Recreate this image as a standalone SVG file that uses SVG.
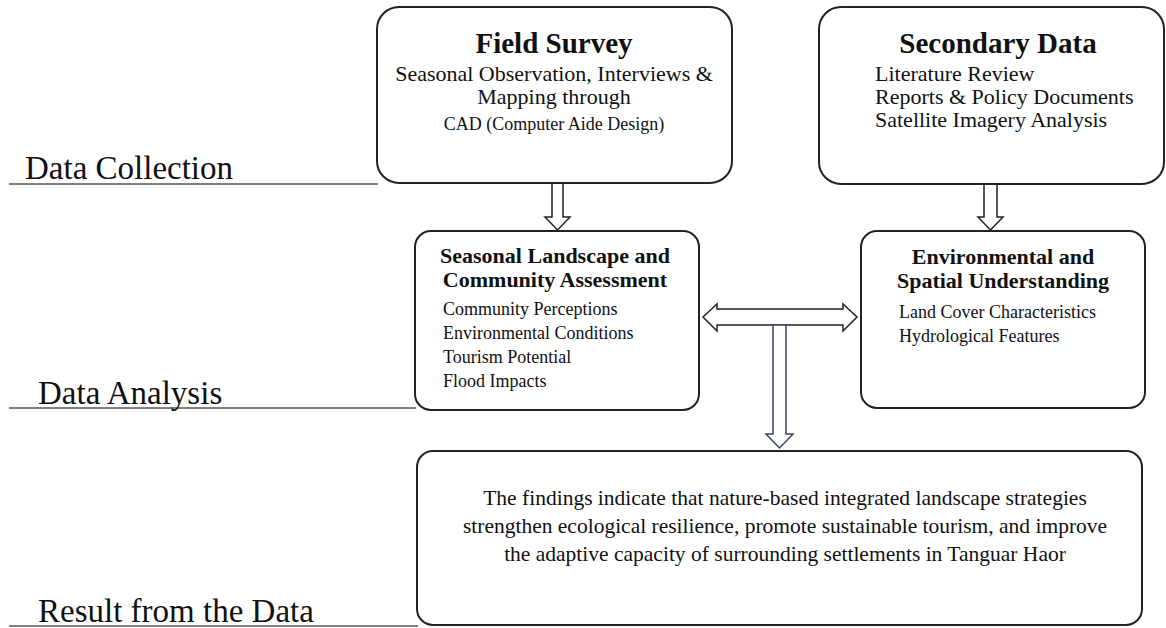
<svg xmlns="http://www.w3.org/2000/svg" width="1166" height="628" viewBox="0 0 1166 628">
  <style>
    .box { fill: #ffffff; stroke: #222222; stroke-width: 2; }
    .arrow { fill: #ffffff; stroke: #222222; stroke-width: 1.5; stroke-linejoin: miter; }
    .arrow-slate { fill: #ffffff; stroke: #3a4560; stroke-width: 1.5; }
    .rule { stroke: #808080; stroke-width: 2; }
    text { font-family: "Liberation Serif", "Times New Roman", serif; fill: #111111; }
    .stage { font-size: 33px; }
    .title { font-size: 29px; font-weight: bold; text-anchor: middle; }
    .sub { font-size: 22px; }
    .subtitle { font-size: 22px; font-weight: bold; text-anchor: middle; }
    .item { font-size: 18px; }
    .body { font-size: 21.5px; text-anchor: middle; }
  </style>

  <!-- Stage labels with their underlines -->
  <g id="stages">
    <line class="rule" x1="9" y1="184" x2="378" y2="184"/>
    <text class="stage" x="25" y="179">Data Collection</text>
    <line class="rule" x1="9" y1="408" x2="416" y2="408"/>
    <text class="stage" x="38" y="404">Data Analysis</text>
    <line class="rule" x1="9" y1="626" x2="418" y2="626"/>
    <text class="stage" x="38" y="622">Result from the Data</text>
  </g>

  <!-- Connectors: block arrows -->
  <g id="connectors">
    <polygon class="arrow" points="552,183 563,183 563,217 570,217 557.5,230 545,217 552,217"/>
    <polygon class="arrow" points="984,184 997,184 997,217 1003,217 990.5,230 978,217 984,217"/>
    <polygon class="arrow" points="703,317 717,304 717,309 843,309 843,304 857,317 843,331 843,325 717,325 717,331"/>
    <polygon class="arrow-slate" points="773,325 786,325 786,434 793,434 779.5,448 766,434 773,434"/>
  </g>

  <g id="field-survey">
    <rect class="box" x="377" y="7" width="355" height="176" rx="22"/>
    <text class="title" x="554" y="53">Field Survey</text>
    <text class="sub" x="554" y="81" text-anchor="middle">Seasonal Observation, Interviews &amp;</text>
    <text class="sub" x="554" y="104" text-anchor="middle">Mapping through</text>
    <text class="item" x="554" y="130" text-anchor="middle">CAD (Computer Aide Design)</text>
  </g>

  <g id="secondary-data">
    <rect class="box" x="819" y="7" width="345" height="177" rx="22"/>
    <text class="title" x="998" y="53">Secondary Data</text>
    <text class="sub" x="875" y="81">Literature Review</text>
    <text class="sub" x="875" y="104">Reports &amp; Policy Documents</text>
    <text class="sub" x="875" y="127">Satellite Imagery Analysis</text>
  </g>

  <g id="seasonal-assessment">
    <rect class="box" x="415" y="231" width="284" height="179" rx="16"/>
    <text class="subtitle" x="555" y="263">Seasonal Landscape and</text>
    <text class="subtitle" x="555" y="287">Community Assessment</text>
    <text class="item" x="443" y="315">Community Perceptions</text>
    <text class="item" x="443" y="339">Environmental Conditions</text>
    <text class="item" x="443" y="363">Tourism Potential</text>
    <text class="item" x="443" y="387">Flood Impacts</text>
  </g>

  <g id="spatial-understanding">
    <rect class="box" x="861" y="231" width="284" height="177" rx="16"/>
    <text class="subtitle" x="1003" y="264">Environmental and</text>
    <text class="subtitle" x="1003" y="288">Spatial Understanding</text>
    <text class="item" x="899" y="318">Land Cover Characteristics</text>
    <text class="item" x="899" y="342">Hydrological Features</text>
  </g>

  <g id="findings">
    <rect class="box" x="417" y="451" width="725" height="174" rx="16"/>
    <text class="body" x="785" y="505">The findings indicate that nature-based integrated landscape strategies</text>
    <text class="body" x="785" y="533">strengthen ecological resilience, promote sustainable tourism, and improve</text>
    <text class="body" x="785" y="561">the adaptive capacity of surrounding settlements in Tanguar Haor</text>
  </g>
</svg>
